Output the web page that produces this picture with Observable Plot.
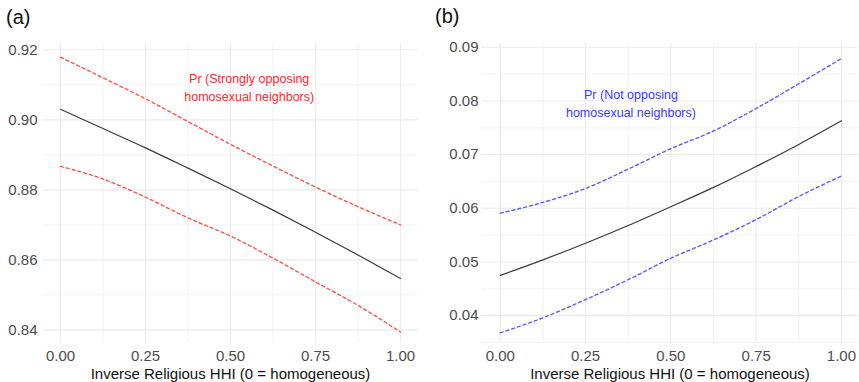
<!DOCTYPE html>
<html>
<head>
<meta charset="utf-8">
<script src="https://cdn.jsdelivr.net/npm/d3@7"></script>
<script src="https://cdn.jsdelivr.net/npm/@observablehq/plot@0.6"></script>
<style>
  html, body { margin: 0; padding: 0; background: #fff; }
  #wrap { position: relative; width: 859px; height: 382px; font-family: "Liberation Sans", Arial, sans-serif; }
  .panel { position: absolute; top: 0; }
  .tag { position: absolute; font-size: 20px; color: #111; line-height: 1; }
</style>
</head>
<body>
<div id="wrap">
  <div class="panel" id="pa" style="left:0px"></div>
  <div class="panel" id="pb" style="left:430px"></div>
  <div class="tag" style="left:6px; top:7px;">(a)</div>
  <div class="tag" style="left:435px; top:6px;">(b)</div>
</div>
<script>
// x positions (Inverse Religious HHI)
const xVals = [0, 0.125, 0.25, 0.375, 0.5, 0.625, 0.75, 0.875, 1];
// Panel (a): Pr(Strongly opposing homosexual neighbors)
const aFit   = [0.9030, 0.8975, 0.8920, 0.8862, 0.8803, 0.8742, 0.8679, 0.8614, 0.8547];
const aUpper = [0.9179, 0.9120, 0.9060, 0.8995, 0.8930, 0.8868, 0.8808, 0.8752, 0.8700];
const aLower = [0.8867, 0.8831, 0.8779, 0.8720, 0.8668, 0.8605, 0.8537, 0.8470, 0.8394];
// Panel (b): Pr(Not opposing homosexual neighbors)
const bFit   = [0.0475, 0.0504, 0.0535, 0.0568, 0.0603, 0.0639, 0.0678, 0.0719, 0.0763];
const bUpper = [0.0591, 0.0611, 0.0637, 0.0673, 0.0711, 0.0744, 0.0786, 0.0832, 0.0879];
const bLower = [0.0368, 0.0396, 0.0430, 0.0467, 0.0507, 0.0541, 0.0579, 0.0622, 0.0660];

const xTicks = [0, 0.25, 0.5, 0.75, 1];
const xMinor = [0.125, 0.375, 0.625, 0.875];
const aTicks = [0.84, 0.86, 0.88, 0.90, 0.92];
const aMinor = [0.85, 0.87, 0.89, 0.91];
const bTicks = [0.04, 0.05, 0.06, 0.07, 0.08, 0.09];
const bMinor = [0.035, 0.045, 0.055, 0.065, 0.075, 0.085];
const xTitle = "Inverse Religious HHI (0 = homogeneous)";
const aNote = "Pr (Strongly opposing\nhomosexual neighbors)";
const bNote = "Pr (Not opposing\nhomosexual neighbors)";

const toRows = (ys) => xVals.map((x, i) => ({x, y: ys[i]}));

function panel({width, marginLeft, marginRight, xDomain, yDomain, yTicks, yMinor, fit, upper, lower, dashColor, note, noteX, noteY, noteColor, yPad}) {
  return Plot.plot({
    width, height: 382,
    marginLeft, marginRight, marginTop: 43, marginBottom: 40,
    style: {fontFamily: "'Liberation Sans', Arial, sans-serif", fontSize: "15px", color: "#4d4d4d", background: "#fff", overflow: "visible"},
    x: {domain: xDomain},
    y: {domain: yDomain},
    marks: [
      Plot.gridX(xMinor, {stroke: "#ebebeb", strokeOpacity: 1, strokeWidth: 0.6}),
      Plot.gridY(yMinor, {stroke: "#ebebeb", strokeOpacity: 1, strokeWidth: 0.6}),
      Plot.gridX(xTicks, {stroke: "#ebebeb", strokeOpacity: 1, strokeWidth: 1.1}),
      Plot.gridY(yTicks, {stroke: "#ebebeb", strokeOpacity: 1, strokeWidth: 1.1}),
      Plot.axisX({ticks: xTicks, tickFormat: d3.format(".2f"), tickSize: 0, tickPadding: 8, label: null, fill: "#4d4d4d"}),
      Plot.axisY({ticks: yTicks, tickFormat: d3.format(".2f"), tickSize: 0, tickPadding: yPad, label: null, fill: "#4d4d4d"}),
      Plot.text([xTitle], {frameAnchor: "bottom", dy: 32, lineAnchor: "middle", fill: "#111", fontSize: 15}),
      Plot.line(toRows(upper), {x: "x", y: "y", stroke: dashColor, strokeWidth: 1.4, strokeDasharray: "3,3", curve: "monotone-x"}),
      Plot.line(toRows(lower), {x: "x", y: "y", stroke: dashColor, strokeWidth: 1.4, strokeDasharray: "3,3", curve: "monotone-x"}),
      Plot.line(toRows(fit), {x: "x", y: "y", stroke: "#3a3a3a", strokeWidth: 1.2, curve: "monotone-x"}),
      Plot.text([note], {x: noteX, y: noteY, fill: noteColor, fontSize: 12.5, lineHeight: 1.45, textAnchor: "middle"})
    ]
  });
}

document.getElementById("pa").append(panel({
  width: 430, marginLeft: 43, marginRight: 13,
  xDomain: [-0.05, 1.05], yDomain: [0.8364, 0.9218],
  yTicks: aTicks, yMinor: aMinor,
  fit: aFit, upper: aUpper, lower: aLower,
  dashColor: "#ff5252", note: aNote, noteX: 0.555, noteY: 0.9097, noteColor: "#ff2a2a", yPad: 6
}));

document.getElementById("pb").append(panel({
  width: 429, marginLeft: 51, marginRight: 1,
  xDomain: [-0.055, 1.05], yDomain: [0.0350, 0.0907],
  yTicks: bTicks, yMinor: bMinor,
  fit: bFit, upper: bUpper, lower: bLower,
  dashColor: "#5c5cff", note: bNote, noteX: 0.383, noteY: 0.0798, noteColor: "#3a3aff", yPad: 3
}));
</script>
</body>
</html>
